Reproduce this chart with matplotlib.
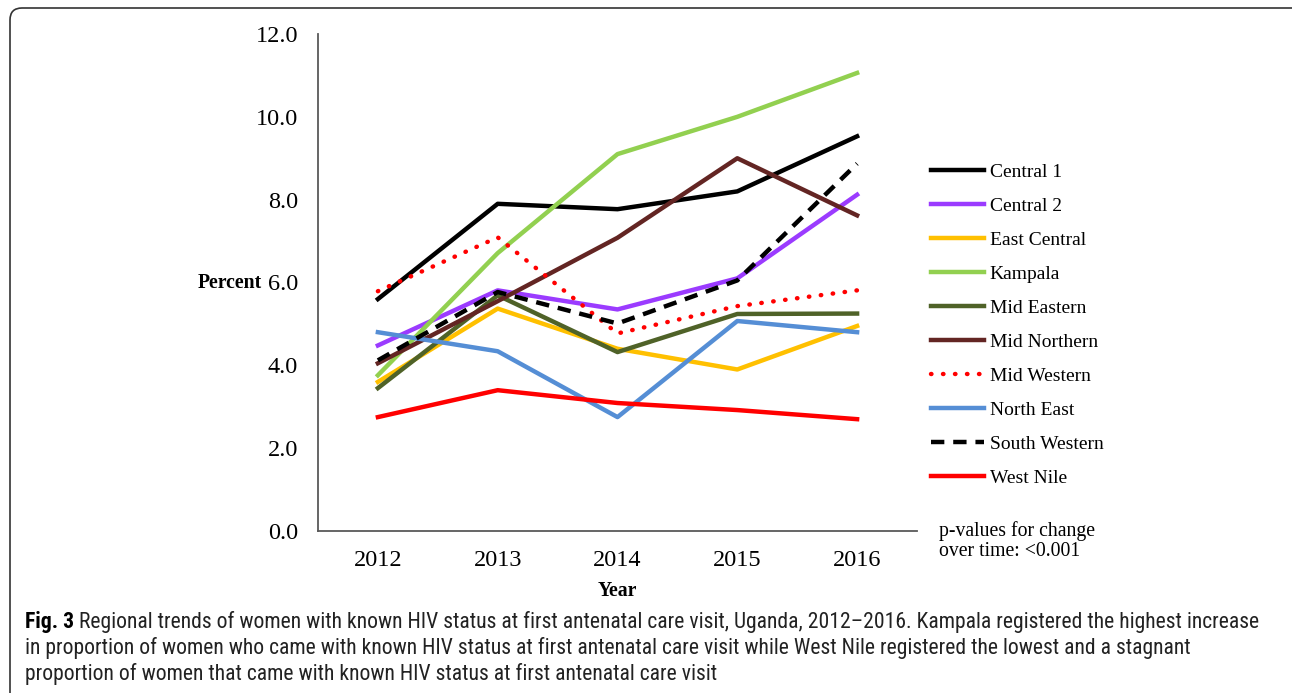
import matplotlib
matplotlib.use("Agg")
import matplotlib.pyplot as plt
import matplotlib.patches as mpatches
from matplotlib import font_manager
from matplotlib.transforms import IdentityTransform

years = ["2012", "2013", "2014", "2015", "2016"]
regions = ["Central 1", "Central 2", "East Central", "Kampala", "Mid Eastern",
           "Mid Northern", "Mid Western", "North East", "South Western", "West Nile"]

central1 = [5.6, 7.9, 7.77, 8.2, 9.53]
central2 = [4.48, 5.81, 5.35, 6.1, 8.12]
east_central = [3.6, 5.37, 4.4, 3.9, 4.95]
kampala = [3.76, 6.71, 9.1, 10.0, 11.06]
mid_eastern = [3.45, 5.69, 4.32, 5.24, 5.25]
mid_northern = [4.05, 5.55, 7.08, 9.0, 7.62]
mid_western = [5.79, 7.09, 4.77, 5.43, 5.81]
north_east = [4.8, 4.34, 2.75, 5.07, 4.8]
south_western = [4.12, 5.77, 5.01, 6.05, 8.87]
west_nile = [2.75, 3.4, 3.09, 2.92, 2.7]

series = [central1, central2, east_central, kampala, mid_eastern,
          mid_northern, mid_western, north_east, south_western, west_nile]
colors = ["#000000", "#9B3BFF", "#FFC000", "#92D050", "#4F6228",
          "#632523", "#FF0000", "#558ED5", "#000000", "#FF0000"]
styles = ["-", "-", "-", "-", "-", "-", (0, (0.1, 2.6)), "-", (0, (3, 2)), "-"]

serif = ["Liberation Serif", "DejaVu Serif"]

fig = plt.figure(figsize=(12.92, 6.93), dpi=100)
ax = fig.add_axes([318 / 1292, 1 - 531 / 693, (917 - 318) / 1292, (531 - 34) / 693])

x = list(range(len(years)))
for vals, name, c, ls in zip(series, regions, colors, styles):
    ax.plot(x, vals, color=c, lw=3.2, linestyle=ls, label=name,
            dash_capstyle="round" if ls == styles[6] else "butt")

ax.set_xlim(-0.5, 4.5)
ax.set_ylim(0, 12)
ax.set_yticks([0, 2, 4, 6, 8, 10, 12])
ax.set_yticklabels(["0.0", "2.0", "4.0", "6.0", "8.0", "10.0", "12.0"])
ax.set_xticks(x)
ax.set_xticklabels(years)
ax.tick_params(length=0, labelsize=17.5)
ax.tick_params(axis="y", pad=14.5)
ax.tick_params(axis="x", pad=14)
for lab in ax.get_xticklabels() + ax.get_yticklabels():
    lab.set_family(serif)
for s in ["top", "right"]:
    ax.spines[s].set_visible(False)
for s in ["left", "bottom"]:
    ax.spines[s].set_color("#595959")
    ax.spines[s].set_linewidth(1.3)

fig.text(262 / 1292, 1 - 283 / 693, "Percent", ha="right", va="center",
         fontsize=14.2, fontweight="bold", family=serif)
fig.text(617 / 1292, 1 - 591 / 693, "Year", ha="center", va="center",
         fontsize=14.2, fontweight="bold", family=serif)
fig.text(939 / 1292, 1 - 541 / 693, "p-values for change\nover time: <0.001",
         ha="left", va="center", fontsize=14.2, family=serif, linespacing=1.1)

leg = fig.legend(loc="upper left", bbox_to_anchor=(913 / 1292, 1 - 146 / 693),
                 frameon=False, handlelength=2.75, handletextpad=0.3,
                 labelspacing=0.84, prop={"family": serif, "size": 14})
for h in leg.get_lines():
    h.set_linewidth(3.2)

# frame around figure
box = mpatches.FancyBboxPatch((10, -30), 1320, 693 - 8 + 30,
                              boxstyle="round,pad=0,rounding_size=12",
                              transform=IdentityTransform(), fill=False,
                              edgecolor="#333333", lw=1.2)
fig.patches.append(box)

# caption, narrow sans if one exists
installed = {(f.name, f.stretch) for f in font_manager.fontManager.ttflist}
names = {f.name for f in font_manager.fontManager.ttflist}
cap_family = "DejaVu Sans"
cap_stretch = "normal"
for cand in ["Liberation Sans Narrow", "Roboto Condensed", "Open Sans Condensed"]:
    if cand in names:
        cap_family = cand
        break
else:
    if ("DejaVu Sans", "condensed") in installed or ("DejaVu Sans", 300) in installed:
        cap_stretch = "condensed"

lines = ["Regional trends of women with known HIV status at first antenatal care visit, Uganda, 2012\u20132016. Kampala registered the highest increase",
         "in proportion of women who came with known HIV status at first antenatal care visit while West Nile registered the lowest and a stagnant",
         "proportion of women that came with known HIV status at first antenatal care visit"]
r = fig.canvas.get_renderer()
fs = 14
t0 = fig.text(25 / 1292, 1 - 622 / 693, "Fig. 3", fontsize=fs, fontweight="bold",
              family=cap_family, stretch=cap_stretch, va="center", ha="left")
x1 = t0.get_window_extent(r).x1 + 5
t1 = fig.text(x1 / 1292, 1 - 622 / 693, lines[0], fontsize=fs, family=cap_family,
              stretch=cap_stretch, va="center", ha="left", color="#222222")
w = t1.get_window_extent(r).x1
fs = fs * (1267 - 25) / (w - 25)
t0.set_fontsize(fs)
x1 = t0.get_window_extent(r).x1 + 5
t1.set_fontsize(fs)
t1.set_x(x1 / 1292)
fig.text(25 / 1292, 1 - 648 / 693, lines[1], fontsize=fs, family=cap_family,
         stretch=cap_stretch, va="center", ha="left", color="#222222")
fig.text(25 / 1292, 1 - 674 / 693, lines[2], fontsize=fs, family=cap_family,
         stretch=cap_stretch, va="center", ha="left", color="#222222")

fig.savefig("out.png", dpi=100)
